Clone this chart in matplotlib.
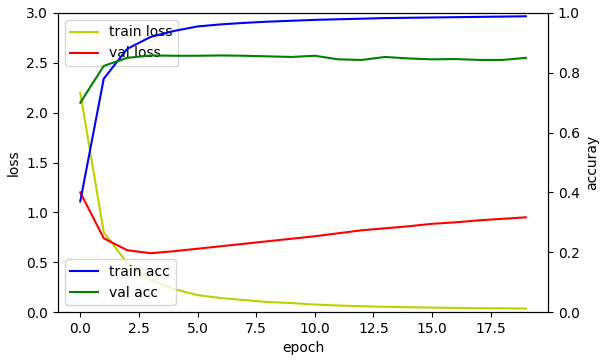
import matplotlib
matplotlib.use('Agg')
import matplotlib.pyplot as plt

epochs = list(range(20))
train_loss = [2.2, 0.8, 0.49, 0.32, 0.23, 0.17, 0.14, 0.12, 0.10, 0.09,
              0.075, 0.065, 0.058, 0.052, 0.048, 0.044, 0.041, 0.039, 0.037, 0.035]
val_loss = [1.2, 0.74, 0.62, 0.59, 0.61, 0.635, 0.66, 0.685, 0.71, 0.735,
            0.76, 0.79, 0.82, 0.84, 0.86, 0.885, 0.90, 0.92, 0.935, 0.95]
train_acc = [0.37, 0.78, 0.88, 0.92, 0.94, 0.955, 0.962, 0.967, 0.971, 0.974,
             0.977, 0.979, 0.981, 0.983, 0.984, 0.985, 0.986, 0.987, 0.988, 0.989]
val_acc = [0.70, 0.823, 0.85, 0.858, 0.857, 0.857, 0.858, 0.857, 0.855, 0.853,
           0.857, 0.845, 0.843, 0.853, 0.848, 0.845, 0.846, 0.843, 0.843, 0.85]

fig, loss_ax = plt.subplots(figsize=(6.01, 3.61), dpi=100)
fig.subplots_adjust(left=0.0965, right=0.912, bottom=0.1357, top=0.964)
acc_ax = loss_ax.twinx()

loss_ax.plot(epochs, train_loss, color='#bcd200', label='train loss')
loss_ax.plot(epochs, val_loss, 'r', label='val loss')
loss_ax.set_ylim([0.0, 3.0])

acc_ax.plot(epochs, train_acc, 'b', label='train acc')
acc_ax.plot(epochs, val_acc, 'g', label='val acc')
acc_ax.set_ylim([0.0, 1.0])

loss_ax.set_xlabel('epoch')
loss_ax.set_ylabel('loss')
acc_ax.set_ylabel('accuray')

loss_ax.legend(loc='upper left')
acc_ax.legend(loc='lower left')

plt.savefig('out.png')
